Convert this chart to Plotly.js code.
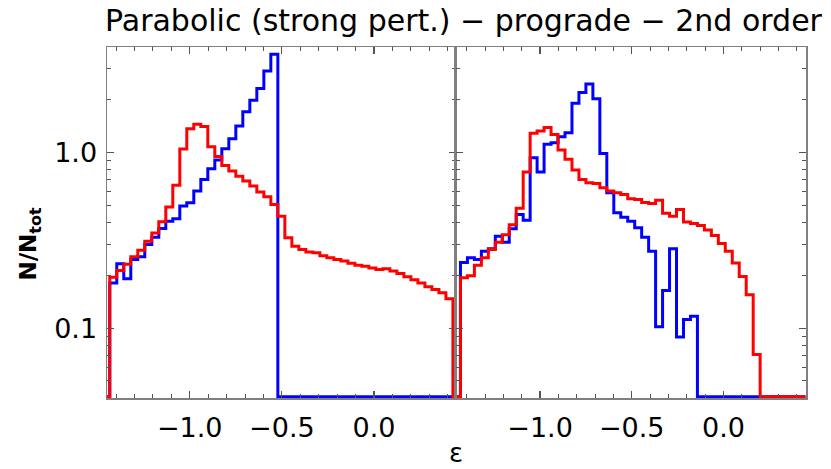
<!DOCTYPE html>
<html>
<head>
<meta charset="utf-8">
<script src="https://cdn.plot.ly/plotly-3.0.1.min.js"></script>
<style>
  html, body { margin: 0; padding: 0; background: #fff; }
  #chart { width: 831px; height: 469px; }
</style>
</head>
<body>
<div id="chart"></div>
<script>
// Energy histograms, parabolic encounter (strong perturbation), prograde, 2nd order
// left panel / right panel, blue and red curves, 51 bins each

var binStart = -1.453;   // centre of first bin
var binWidth = 0.038;

var leftBlue = [
  0, 0.181, 0.233, 0.191, 0.246, 0.255, 0.30, 0.33, 0.37, 0.407,
  0.42, 0.496, 0.519, 0.604, 0.704, 0.81, 0.907, 1.054, 1.20, 1.42,
  1.71, 1.99, 2.32, 2.92, 3.64, 0, 0, 0, 0, 0,
  0, 0, 0, 0, 0, 0, 0, 0, 0, 0,
  0, 0, 0, 0, 0, 0, 0, 0, 0, 0,
  0
];

var leftRed = [
  0, 0.195, 0.213, 0.231, 0.255, 0.278, 0.313, 0.349, 0.404, 0.49,
  0.653, 1.05, 1.37, 1.45, 1.41, 1.08, 0.95, 0.846, 0.785, 0.735,
  0.689, 0.645, 0.596, 0.561, 0.507, 0.434, 0.327, 0.293, 0.281, 0.272,
  0.269, 0.259, 0.252, 0.246, 0.241, 0.234, 0.228, 0.225, 0.220, 0.216,
  0.218, 0.212, 0.205, 0.196, 0.189, 0.181, 0.172, 0.166, 0.159, 0.147,
  0
];

var rightBlue = [
  0, 0.237, 0.252, 0.246, 0.274, 0.283, 0.334, 0.309, 0.368, 0.444,
  0.412, 0.936, 0.775, 1.115, 1.14, 1.234, 1.30, 1.91, 2.20, 2.46,
  2.03, 0.99, 0.591, 0.455, 0.428, 0.407, 0.373, 0.33, 0.274, 0.102,
  0.164, 0.283, 0.089, 0.112, 0.117, 0, 0, 0, 0, 0,
  0, 0, 0, 0, 0, 0, 0, 0, 0, 0,
  0
];

var rightRed = [
  0, 0.194, 0.199, 0.228, 0.252, 0.281, 0.309, 0.341, 0.389, 0.482,
  0.775, 1.289, 1.33, 1.39, 1.27, 1.035, 0.916, 0.796, 0.704, 0.674,
  0.668, 0.631, 0.604, 0.591, 0.578, 0.546, 0.541, 0.52, 0.513, 0.536,
  0.452, 0.434, 0.474, 0.402, 0.395, 0.385, 0.362, 0.337, 0.304, 0.274,
  0.235, 0.197, 0.155, 0.0707, 0, 0, 0, 0, 0, 0,
  0
];

var xTickVals = [-1.0, -0.5, 0.0];
var xTickText = ['\u22121.0', '\u22120.5', '0.0'];
var yTickVals = [0.1, 1];
var yTickText = ['0.1', '1.0'];
var yMinorVals = [0.04, 0.05, 0.06, 0.07, 0.08, 0.09,
                  0.2, 0.3, 0.4, 0.5, 0.6, 0.7, 0.8, 0.9, 2, 3, 4];

var yMin = 0.04, yMax = 4;
// empty bins are drawn on the floor of the log axis, like the original
var floorVal = 0.0406;

var eps = [];
for (var k = 0; k < leftBlue.length; k++) eps.push(binStart + k * binWidth);

function onFloor(arr) {
  return arr.map(function (v) { return v > floorVal ? v : floorVal; });
}

function stepTrace(vals, color, xa, ya) {
  return {
    x: eps, y: onFloor(vals), xaxis: xa, yaxis: ya,
    type: 'scatter', mode: 'lines',
    line: { shape: 'hvh', color: color, width: 3 },
    hoverinfo: 'skip', showlegend: false
  };
}

var data = [
  stepTrace(leftBlue, '#0000ff', 'x', 'y'),
  stepTrace(leftRed, '#ff0000', 'x', 'y'),
  stepTrace(rightBlue, '#0000ff', 'x2', 'y2'),
  stepTrace(rightRed, '#ff0000', 'x2', 'y2')
];

var font = 'DejaVu Sans';
var tickFont = { family: font, size: 27, color: '#000' };

function xAxis(domain, range, anchor) {
  return {
    domain: domain, range: range, anchor: anchor,
    showline: true, linecolor: '#808080', linewidth: 1.5, mirror: 'ticks',
    ticks: 'inside', ticklen: 7, tickwidth: 1.2, tickcolor: '#555',
    tickmode: 'array', tickvals: xTickVals, ticktext: xTickText,
    tickfont: tickFont, ticklabelstandoff: 5,
    minor: { dtick: 0.1, tick0: 0, ticks: 'inside', ticklen: 4, tickwidth: 1, tickcolor: '#555' },
    showgrid: false, zeroline: false, fixedrange: true
  };
}

function yAxis(anchor, labels) {
  return {
    type: 'log', anchor: anchor, domain: [0, 1],
    range: [Math.log10(yMin), Math.log10(yMax)],
    showline: true, linecolor: '#808080', linewidth: 1.5, mirror: 'ticks',
    ticks: 'inside', ticklen: 7, tickwidth: 1.2, tickcolor: '#555',
    tickmode: 'array', tickvals: yTickVals, ticktext: yTickText,
    showticklabels: labels, tickfont: tickFont, ticklabelstandoff: 3,
    minor: { tickmode: 'array', tickvals: yMinorVals, ticks: 'inside', ticklen: 4, tickwidth: 1, tickcolor: '#555' },
    showgrid: false, zeroline: false, fixedrange: true
  };
}

var split = 348.5 / 699;

var layout = {
  width: 831, height: 469,
  margin: { l: 107, r: 25, t: 47, b: 71 },
  paper_bgcolor: '#fff', plot_bgcolor: '#fff',
  xaxis: xAxis([0, split], [-1.449, 0.442], 'y'),
  xaxis2: xAxis([split, 1], [-1.461, 0.450], 'y2'),
  yaxis: yAxis('x', true),
  yaxis2: yAxis('x2', false),
  annotations: [
    { text: 'Parabolic (strong pert.) \u2212 prograde \u2212 2nd order',
      xref: 'paper', yref: 'paper', x: (464 - 107) / 699, y: 1, yshift: 27,
      xanchor: 'center', yanchor: 'middle', showarrow: false,
      font: { family: font, size: 30, color: '#000' } },
    { text: '<b>N/N<sub>tot</sub></b>', textangle: -90,
      xref: 'paper', yref: 'paper', x: 0, y: 0.44, xshift: -77,
      xanchor: 'center', yanchor: 'middle', showarrow: false,
      font: { family: font, size: 23, color: '#000' } },
    { text: '\u03b5',
      xref: 'paper', yref: 'paper', x: split, y: 0, yshift: -55,
      xanchor: 'center', yanchor: 'middle', showarrow: false,
      font: { family: font, size: 26, color: '#000' } }
  ]
};

Plotly.newPlot('chart', data, layout, { displayModeBar: false, staticPlot: true });
</script>
</body>
</html>
